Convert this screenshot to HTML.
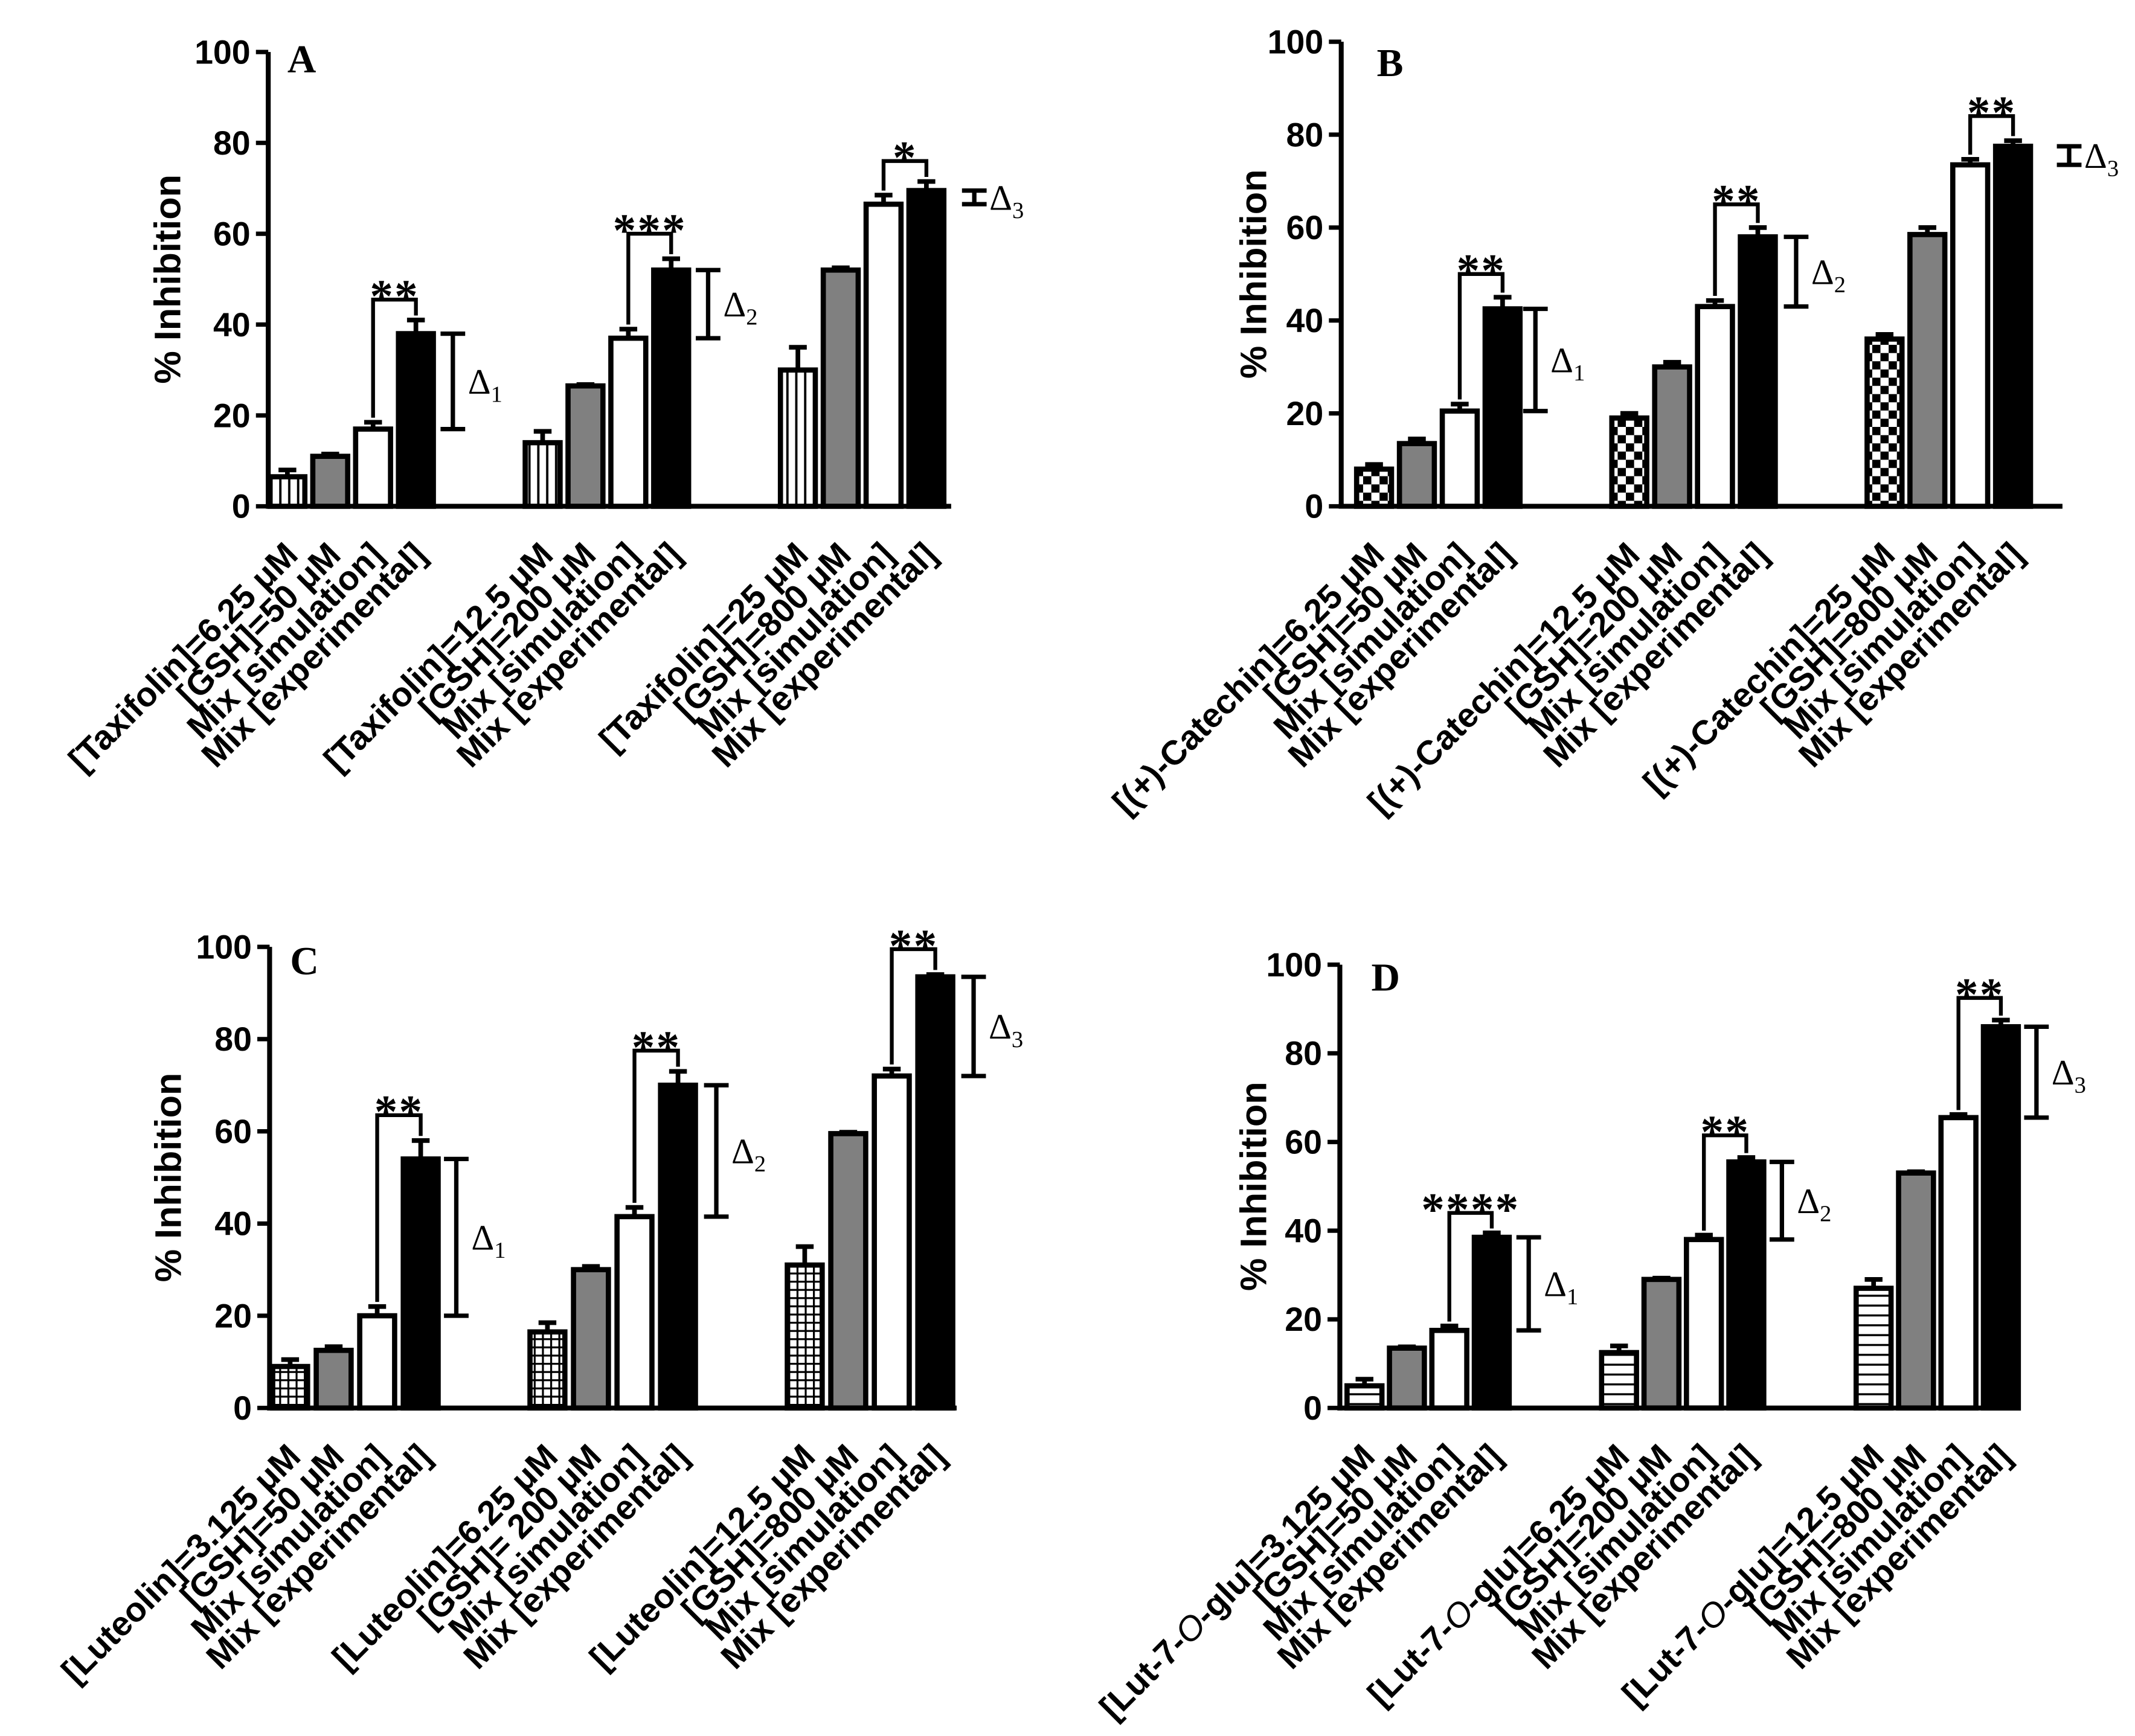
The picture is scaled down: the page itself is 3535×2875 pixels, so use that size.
<!DOCTYPE html>
<html><head><meta charset="utf-8"><style>
html,body{margin:0;padding:0;background:#fff;}
svg{display:block;}
</style></head><body>
<svg id="fig" xmlns="http://www.w3.org/2000/svg" width="3535" height="2875" viewBox="0 0 1560 1268.7">
<defs>
<pattern id="pat-vs" patternUnits="userSpaceOnUse" width="6.5" height="10"><rect width="6.5" height="10" fill="#fff"/><rect x="2.5" y="0" width="1.7" height="10" fill="#000"/></pattern>
<pattern id="pat-ck" patternUnits="userSpaceOnUse" width="12" height="12"><rect width="12" height="12" fill="#fff"/><rect x="0" y="0" width="6" height="6" fill="#000"/><rect x="6" y="6" width="6" height="6" fill="#000"/></pattern>
<pattern id="pat-gr" patternUnits="userSpaceOnUse" width="6" height="6"><rect width="6" height="6" fill="#fff"/><rect x="0" y="0" width="6" height="1.4" fill="#000"/><rect x="0" y="0" width="1.4" height="6" fill="#000"/></pattern>
<pattern id="pat-hs" patternUnits="userSpaceOnUse" width="10" height="7.2"><rect width="10" height="7.2" fill="#fff"/><rect x="0" y="3" width="10" height="1.5" fill="#000"/></pattern>
</defs>
</svg>
<script>
// ---- Data (percent inhibition) ----
const seriesNames = ["compound", "GSH", "Mix [simulation]", "Mix [experimental]"];
const yTicks = [0, 20, 40, 60, 80, 100];

const compoundLabelsA = ["[Taxifolin]=6.25 μM", "[Taxifolin]=12.5 μM", "[Taxifolin]=25 μM"];
const gshLabelsA = ["[GSH]=50 μM", "[GSH]=200 μM", "[GSH]=800 μM"];
const valuesA = [[6.5, 11, 17, 38], [14, 26.5, 37, 52], [30, 52, 66.5, 69.5]];
const errorsA = [[1.5, 0.5, 1.5, 3], [2.5, 0.3, 2, 2.5], [5, 0.5, 2, 2]];
const bracketA = [45.5, 60, 76];
const starsA = ["**", "***", "*"];

const compoundLabelsB = ["[(+)-Catechin]=6.25 μM", "[(+)-Catechin]=12.5 μM", "[(+)-Catechin]=25 μM"];
const gshLabelsB = ["[GSH]=50 μM", "[GSH]=200 μM", "[GSH]=800 μM"];
const valuesB = [[8, 13.5, 20.5, 42.5], [19, 30, 43, 58], [36, 58.5, 73.5, 77.5]];
const errorsB = [[1, 1, 1.5, 2.5], [1, 1, 1.3, 2], [1, 1.5, 1.2, 1.2]];
const bracketB = [50, 65, 84];
const starsB = ["**", "**", "**"];

const compoundLabelsC = ["[Luteolin]=3.125 μM", "[Luteolin]=6.25 μM", "[Luteolin]=12.5 μM"];
const gshLabelsC = ["[GSH]=50 μM", "[GSH]= 200 μM", "[GSH]=800 μM"];
const valuesC = [[9, 12.5, 20, 54], [16.5, 30, 41.5, 70], [31, 59.5, 72, 93.5]];
const errorsC = [[1.5, 0.8, 2, 4], [2, 0.7, 2, 3], [4, 0.3, 1.5, 0.5]];
const bracketC = [63.5, 77.5, 99.5];
const starsC = ["**", "**", "**"];

const compoundLabelsD = ["[Lut-7-O-glu]=3.125 μM", "[Lut-7-O-glu]=6.25 μM", "[Lut-7-O-glu]=12.5 μM"];
const gshLabelsD = ["[GSH]=50 μM", "[GSH]=200 μM", "[GSH]=800 μM"];
const valuesD = [[5, 13.5, 17.5, 38.5], [12.5, 29, 38, 55.5], [27, 53, 65.5, 86]];
const errorsD = [[1.5, 0.3, 1, 1], [1.5, 0.3, 1, 1], [2, 0.3, 0.7, 1.5]];
const bracketD = [44, 61.5, 92.5];
const starsD = ["****", "**", "**"];

// ---- Layout ----
const layouts = [
  {id:"a", letter:"A", ax:196, yTop:38, yBot:370, xEnd:695, off:14, gsp:186.5, pitch:31.3, pat:"vs", lx:14, ly:15, tx:-71.5, dOff:[27,27,35],
   comp:compoundLabelsA, gsh:gshLabelsA, vals:valuesA, errs:errorsA, br:bracketA, st:starsA},
  {id:"b", letter:"B", ax:980, yTop:30.5, yBot:370, xEnd:1507, off:24, gsp:186.5, pitch:31.3, pat:"ck", lx:26, ly:25, tx:-62, dOff:[24,28,41],
   comp:compoundLabelsB, gsh:gshLabelsB, vals:valuesB, errs:errorsB, br:bracketB, st:starsB},
  {id:"c", letter:"C", ax:197, yTop:692, yBot:1029, xEnd:699, off:15, gsp:188, pitch:31.8, pat:"gr", lx:15, ly:20, tx:-72, dOff:[26,28,28],
   comp:compoundLabelsC, gsh:gshLabelsC, vals:valuesC, errs:errorsC, br:bracketC, st:starsC},
  {id:"d", letter:"D", ax:979, yTop:705, yBot:1029, xEnd:1476, off:18, gsp:186, pitch:31, pat:"hs", lx:23, ly:19, tx:-61, dOff:[27,26,26],
   comp:compoundLabelsD, gsh:gshLabelsD, vals:valuesD, errs:errorsD, br:bracketD, st:starsD}
];

const NS = "http://www.w3.org/2000/svg";
const svg = document.getElementById("fig");
function mk(tag, attrs, parent) {
  const e = document.createElementNS(NS, tag);
  for (const k in attrs) e.setAttribute(k, attrs[k]);
  parent.appendChild(e);
  return e;
}
const SANS = "'Liberation Sans', Arial, sans-serif";
const SERIF = "'Liberation Serif', 'Times New Roman', serif";

layouts.forEach(function (L) {
  const g = mk("g", {}, svg);
  
  
  const Y = v => L.yBot - (L.yBot - L.yTop) * v / 100;
  const X = (gi, si) => L.ax + L.off + gi * L.gsp + si * L.pitch;
  const bw = 25.5;

  const yax = mk("line", {x1:L.ax, y1:L.yTop, x2:L.ax, y2:L.yBot + 1.8, stroke:"#000", "stroke-width":3.6}, g);
  
  
  const xax = mk("line", {x1:L.ax - 1.8, y1:L.yBot, x2:L.xEnd, y2:L.yBot, stroke:"#000", "stroke-width":3.6}, g);
  
  

  yTicks.forEach(function (t) {
    const tk = mk("line", {x1:L.ax - 9, y1:Y(t), x2:L.ax, y2:Y(t), stroke:"#000", "stroke-width":3.2}, g);
    
    
    const tl = mk("text", {x:L.ax - 13, y:Y(t) + 8.5, "text-anchor":"end", "font-family":SANS, "font-weight":"bold", "font-size":24.5}, g);
    tl.textContent = String(t);
    
    
  });

  const midY = (L.yTop + L.yBot) / 2;
  const yt = mk("text", {x:L.ax + L.tx, y:midY, "text-anchor":"middle", "font-family":SANS, "font-weight":"bold", "font-size":27,
    transform:"rotate(-90 " + (L.ax + L.tx) + " " + midY + ")", "dominant-baseline":"middle"}, g);
  yt.textContent = "% Inhibition";
  
  

  const lt = mk("text", {x:L.ax + L.lx, y:L.yTop + L.ly, "font-family":SERIF, "font-weight":"bold", "font-size":29}, g);
  lt.textContent = L.letter;
  
  

  const fills = ["url(#pat-" + L.pat + ")", "#808080", "#ffffff", "#000000"];

  L.vals.forEach(function (grp, gi) {
    grp.forEach(function (v, si) {
      const cx = X(gi, si);
      const err = L.errs[gi][si];
      const eb = mk("path", {d:"M" + cx + " " + Y(v) + " V" + Y(v + err) + " M" + (cx - 6.5) + " " + Y(v + err) + " H" + (cx + 6.5),
        stroke:"#000", "stroke-width":3.4, fill:"none"}, g);
      
      
      const r = mk("rect", {x:cx - bw / 2, y:Y(v), width:bw, height:L.yBot - Y(v), fill:fills[si], stroke:"#000", "stroke-width":3.8}, g);
      
      

      const ax = cx + 9, ay = L.yBot + 37;
      const tx = mk("text", {x:ax, y:ay, "text-anchor":"end", "font-family":SANS, "font-weight":"bold", "font-size":25,
        transform:"rotate(-45 " + ax + " " + ay + ")"}, g);
      let label = si === 0 ? L.comp[gi] : si === 1 ? L.gsh[gi] : seriesNames[si];
      if (label.indexOf("-O-") >= 0) {
        const parts = label.split("-O-");
        const t1 = mk("tspan", {}, tx); t1.textContent = parts[0] + "-";
        const t2 = mk("tspan", {"font-style":"italic", "font-weight":"normal"}, tx); t2.textContent = "O";
        const t3 = mk("tspan", {}, tx); t3.textContent = "-" + parts[1];
      } else {
        tx.textContent = label;
      }
      
      
    });

    const xs = X(gi, 2), xe = X(gi, 3);
    const bY = L.br[gi];
    const leftEnd = grp[2] + L.errs[gi][2] + 1;
    const rightEnd = Math.min(bY - 2.5, Math.max(grp[3] + L.errs[gi][3] + 1, bY - 5));
    const bp = mk("path", {d:"M" + xs + " " + Y(leftEnd) + " V" + Y(bY) + " H" + xe + " V" + Y(rightEnd), stroke:"#000", "stroke-width":2.8, fill:"none"}, g);
    
    
    const st = mk("text", {x:(xs + xe) / 2, y:Y(bY) + 9, "text-anchor":"middle", "font-family":SERIF, "font-weight":"bold", "font-size":34, "letter-spacing":1}, g);
    st.textContent = L.st[gi];
    
    

    const dx = X(gi, 3) + L.dOff[gi];
    const y1 = Y(grp[2]), y2 = Y(grp[3]);
    const dp = mk("path", {d:"M" + dx + " " + y1 + " V" + y2 + " M" + (dx - 9) + " " + y1 + " H" + (dx + 9) + " M" + (dx - 9) + " " + y2 + " H" + (dx + 9),
      stroke:"#000", "stroke-width":3.2, fill:"none"}, g);
    
    
    const dt = mk("text", {x:dx + 11, y:(y1 + y2) / 2 + 9, "font-family":SERIF, "font-size":26}, g);
    const d1 = mk("tspan", {}, dt); d1.textContent = "Δ";
    const d2 = mk("tspan", {"font-size":17, dy:6}, dt); d2.textContent = String(gi + 1);
    
    
  });
});
</script>
</body></html>
